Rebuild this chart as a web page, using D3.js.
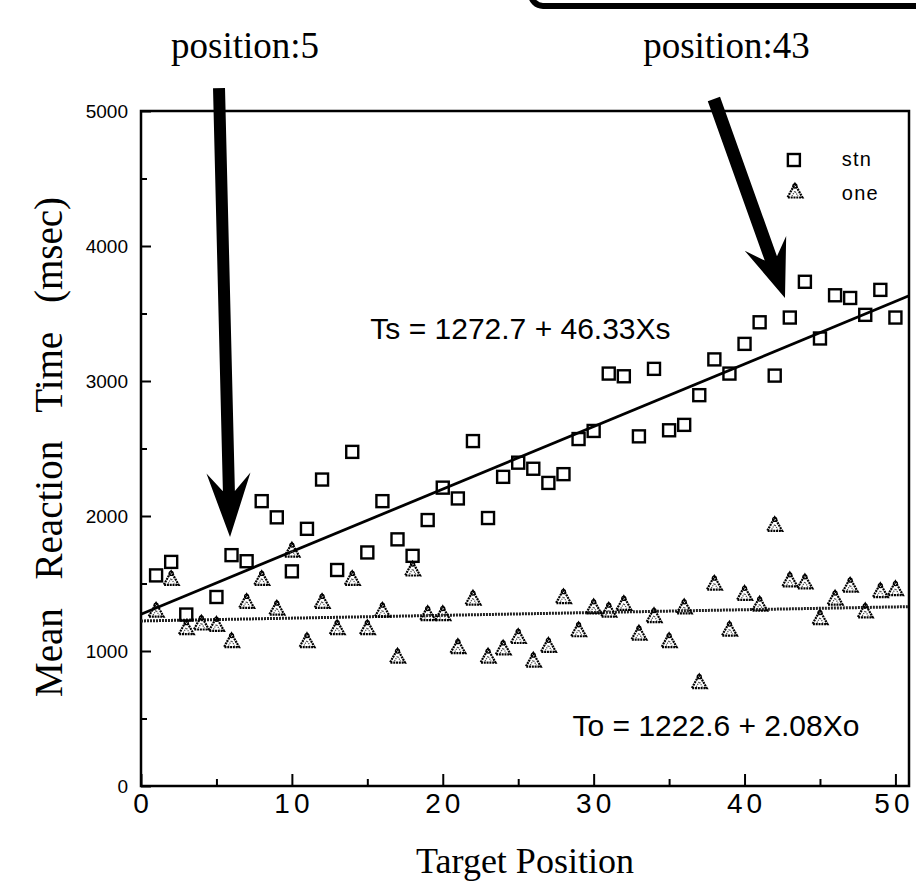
<!DOCTYPE html>
<html>
<head>
<meta charset="utf-8">
<script src="https://d3js.org/d3.v7.min.js"></script>
<style>
  body { margin: 0; background: #fff; }
  svg { display: block; }
</style>
</head>
<body>
<div id="chart"></div>
<script>
// Target positions and mean reaction times (msec)
var stnPos = [1, 2, 3, 5, 6, 7, 8, 9, 10, 11, 12, 13, 14, 15, 16, 17, 18, 19, 20, 21,
  22, 23, 24, 25, 26, 27, 28, 29, 30, 31, 32, 33, 34, 35, 36, 37, 38, 39, 40, 41,
  42, 43, 44, 45, 46, 47, 48, 49, 50];
var stnRT = [1560, 1660, 1270, 1400, 1710, 1665, 2110, 1990, 1590, 1905, 2270, 1600,
  2475, 1730, 2110, 1827, 1705, 1970, 2210, 2130, 2555, 1985, 2290, 2395, 2350, 2245,
  2310, 2570, 2630, 3055, 3035, 2590, 3090, 2635, 2675, 2895, 3160, 3055, 3275, 3435,
  3040, 3470, 3735, 3315, 3635, 3615, 3490, 3675, 3470];

var onePos = [1, 2, 3, 4, 5, 6, 7, 8, 9, 10, 11, 12, 13, 14, 15, 16, 17, 18, 19, 20,
  21, 22, 23, 24, 25, 26, 27, 28, 29, 30, 31, 32, 33, 34, 35, 36, 37, 38, 39, 40,
  41, 42, 43, 44, 45, 46, 47, 48, 49, 50];
var oneRT = [1295, 1530, 1165, 1200, 1190, 1070, 1360, 1530, 1310, 1740, 1070, 1360,
  1165, 1530, 1165, 1295, 955, 1600, 1270, 1270, 1025, 1385, 955, 1015, 1100, 925,
  1035, 1395, 1150, 1320, 1295, 1345, 1125, 1255, 1070, 1320, 765, 1495, 1155, 1420,
  1340, 1930, 1520, 1505, 1240, 1385, 1480, 1290, 1440, 1455];

// regression fits  T = a + b*X
var fitStn = [1272.7, 46.33];
var fitOne = [1222.6, 2.08];

var xTicks = [0, 10, 20, 30, 40, 50];
var xMinor = [5, 15, 25, 35, 45];
var yTicks = [0, 1000, 2000, 3000, 4000, 5000];
var yMinor = [500, 1500, 2500, 3500, 4500];

// annotation arrows [start, tip] in data units
var arrows = [
  {label: "position:5", lx: 6.9, s: [5.17, 5170], t: [5.9, 1844], w: 12, L: 64, N: 46, H: 22},
  {label: "position:43", lx: 38.8, s: [37.97, 5089], t: [42.68, 3615], w: 13, L: 58, N: 42, H: 22}
];

var W = 916, H = 885;
var svg = d3.select("#chart").append("svg")
  .attr("width", W)
  .attr("height", H);

var x = d3.scaleLinear().domain([0, 50.9]).range([141, 909]);
var y = d3.scaleLinear().domain([0, 5000]).range([786, 111]);

var sans = "'Liberation Sans', Arial, Helvetica, sans-serif";
var serif = "'Liberation Serif', 'Times New Roman', serif";

// rounded box edge cut off at the top of the page
svg.append("rect")
  .attr("x", 531).attr("y", -40)
  .attr("width", 420).attr("height", 46)
  .attr("rx", 12)
  .attr("fill", "none")
  .attr("stroke", "#000")
  .attr("stroke-width", 6);

// Axes (ticks point inward)
var gx = svg.append("g")
  .attr("transform", "translate(0," + y(0) + ")")
  .call(d3.axisBottom(x).tickValues(xTicks).tickSize(-12).tickPadding(7).tickFormat(d3.format("d")));
svg.append("g")
  .attr("transform", "translate(0," + y(0) + ")")
  .call(d3.axisBottom(x).tickValues(xMinor).tickSize(-7).tickFormat(""));
var gy = svg.append("g")
  .attr("transform", "translate(" + x(0) + ",0)")
  .call(d3.axisLeft(y).tickValues(yTicks).tickSize(-10).tickPadding(13).tickFormat(d3.format("d")));
svg.append("g")
  .attr("transform", "translate(" + x(0) + ",0)")
  .call(d3.axisLeft(y).tickValues(yMinor).tickSize(-6).tickFormat(""));

svg.selectAll(".domain").remove();
svg.selectAll(".tick line").attr("stroke", "#000").attr("stroke-width", 2);

gx.selectAll("text")
  .attr("font-family", sans)
  .attr("font-size", 28)
  .attr("letter-spacing", 4)
  .attr("dx", function(d) { return d == 50 ? -2 : 1.5; })
  .attr("fill", "#000");
gy.selectAll("text")
  .attr("font-family", sans)
  .attr("font-size", 19)
  .attr("fill", "#000");

// frame
svg.append("rect")
  .attr("x", x(0)).attr("y", y(5000))
  .attr("width", x(50.9) - x(0))
  .attr("height", y(0) - y(5000))
  .attr("fill", "none")
  .attr("stroke", "#000")
  .attr("stroke-width", 2.5);

// axis titles
svg.append("text")
  .attr("x", (x(0) + x(50.9)) / 2)
  .attr("y", 873)
  .attr("text-anchor", "middle")
  .attr("font-family", serif)
  .attr("font-size", 36)
  .text("Target Position");

svg.append("text")
  .attr("transform", "translate(62," + 447 + ") rotate(-90)")
  .attr("text-anchor", "middle")
  .attr("font-family", serif)
  .attr("font-size", 39)
  .attr("word-spacing", 19)
  .text("Mean Reaction Time (msec)");

// fit lines
function fitLine(f) {
  return [[0, f[0]], [50.9, f[0] + f[1] * 50.9]];
}
var line = d3.line().x(function(d) { return x(d[0]); }).y(function(d) { return y(d[1]); });

svg.append("path")
  .attr("d", line(fitLine(fitOne)))
  .attr("fill", "none")
  .attr("stroke", "#222")
  .attr("stroke-width", 3)
  .attr("stroke-dasharray", "2,1");

svg.append("path")
  .attr("d", line(fitLine(fitStn)))
  .attr("fill", "none")
  .attr("stroke", "#000")
  .attr("stroke-width", 2.8);

// markers
var tri = "M0,-8L7.5,5.5L-7.5,5.5Z";

function drawTri(sel) {
  sel.append("path")
    .attr("d", tri)
    .attr("fill", "none")
    .attr("stroke", "#000")
    .attr("stroke-width", 2.2)
    .attr("stroke-dasharray", "2,0.8");
  sel.append("circle")
    .attr("cy", -6).attr("r", 2)
    .attr("fill", "none")
    .attr("stroke", "#000")
    .attr("stroke-width", 1.3);
  sel.append("path")
    .attr("d", "M-3,4L0,-1L3,4")
    .attr("fill", "none")
    .attr("stroke", "#444")
    .attr("stroke-width", 1.2)
    .attr("stroke-dasharray", "1.2,1");
}

var oneData = onePos.map(function(p, i) { return [p, oneRT[i]]; });
var stnData = stnPos.map(function(p, i) { return [p, stnRT[i]]; });

svg.append("g").selectAll("g")
  .data(oneData)
  .enter()
  .append("g")
  .attr("transform", function(d) { return "translate(" + x(d[0]) + "," + y(d[1]) + ")"; })
  .call(drawTri);

svg.append("g").selectAll("rect")
  .data(stnData)
  .enter()
  .append("rect")
  .attr("x", function(d) { return x(d[0]) - 6; })
  .attr("y", function(d) { return y(d[1]) - 6; })
  .attr("width", 12)
  .attr("height", 12)
  .attr("fill", "none")
  .attr("stroke", "#000")
  .attr("stroke-width", 2.4);

// equations
svg.append("text")
  .attr("x", x(15.2)).attr("y", y(3311))
  .attr("font-family", sans)
  .attr("font-size", 30)
  .text("Ts = 1272.7 + 46.33Xs");
svg.append("text")
  .attr("x", x(28.6)).attr("y", y(370))
  .attr("font-family", sans)
  .attr("font-size", 30)
  .text("To = 1222.6 + 2.08Xo");

// legend
svg.append("rect")
  .attr("x", x(43.27) - 6).attr("y", y(4637) - 6)
  .attr("width", 12).attr("height", 12)
  .attr("fill", "none")
  .attr("stroke", "#000")
  .attr("stroke-width", 2.4);
svg.append("g")
  .attr("transform", "translate(" + x(43.34) + "," + y(4400) + ")")
  .call(drawTri);
svg.append("text")
  .attr("x", x(46.45)).attr("y", y(4593))
  .attr("font-family", sans).attr("font-size", 20).attr("letter-spacing", 1.2)
  .text("stn");
svg.append("text")
  .attr("x", x(46.45)).attr("y", y(4341))
  .attr("font-family", sans).attr("font-size", 20).attr("letter-spacing", 1.2)
  .text("one");

// arrows
function arrowPath(a) {
  var s = [x(a.s[0]), y(a.s[1])], t = [x(a.t[0]), y(a.t[1])];
  var dx = t[0] - s[0], dy = t[1] - s[1];
  var len = Math.sqrt(dx * dx + dy * dy);
  var u = [dx / len, dy / len], p = [-u[1], u[0]];
  var barb = [t[0] - u[0] * a.L, t[1] - u[1] * a.L];
  var notch = [t[0] - u[0] * a.N, t[1] - u[1] * a.N];
  var hw = a.w / 2;
  var pts = [
    [s[0] + p[0] * hw, s[1] + p[1] * hw],
    [notch[0] + p[0] * hw, notch[1] + p[1] * hw],
    [barb[0] + p[0] * a.H, barb[1] + p[1] * a.H],
    t,
    [barb[0] - p[0] * a.H, barb[1] - p[1] * a.H],
    [notch[0] - p[0] * hw, notch[1] - p[1] * hw],
    [s[0] - p[0] * hw, s[1] - p[1] * hw]
  ];
  return "M" + pts.join("L") + "Z";
}

svg.selectAll(".arrow")
  .data(arrows)
  .enter()
  .append("path")
  .attr("class", "arrow")
  .attr("d", arrowPath)
  .attr("fill", "#000");

svg.selectAll(".alabel")
  .data(arrows)
  .enter()
  .append("text")
  .attr("class", "alabel")
  .attr("x", function(d) { return x(d.lx); })
  .attr("y", y(5393))
  .attr("text-anchor", "middle")
  .attr("font-family", serif)
  .attr("font-size", 37)
  .text(function(d) { return d.label; });
</script>
</body>
</html>
